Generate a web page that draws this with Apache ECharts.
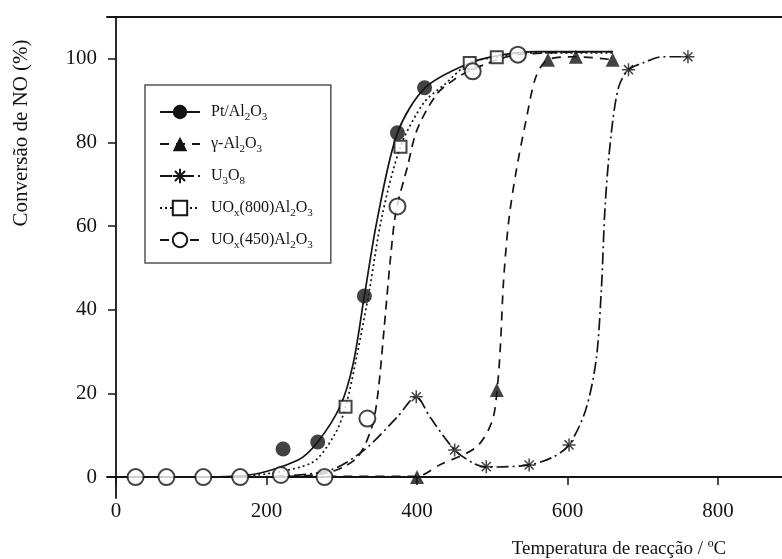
<!DOCTYPE html>
<html>
<head>
<meta charset="utf-8">
<script src="https://cdn.jsdelivr.net/npm/echarts@6/dist/echarts.min.js"></script>
<style>
  html, body { margin: 0; padding: 0; background: #fff; }
  #chart { width: 782px; height: 559px; }
</style>
</head>
<body>
<div id="chart"></div>
<script>
// tick labels
const xTicks = [0, 200, 400, 600, 800];
const yTicks = [0, 20, 40, 60, 80, 100];

// Pt/Al2O3 (filled circles, solid)
const ptX = [222, 268, 330, 374, 410];
const ptY = [6.7, 8.4, 43.3, 82.3, 93.1];
const ptCurveX = [100, 176, 242, 268, 298, 315, 330, 347, 374, 411, 470, 515, 558, 660];
const ptCurveY = [0, 0.5, 4.1, 8.4, 17, 27, 43.3, 61.5, 82.3, 93.1, 99, 101, 101.7, 101.7];

// γ-Al2O3 (triangles, dashed)
const gaX = [400, 506, 574, 611, 660];
const gaY = [0, 20.8, 99.8, 100.5, 99.8];
const gaCurveX = [281, 400, 430, 479, 500, 507, 511, 515, 522, 532, 545, 558, 574, 611, 660];
const gaCurveY = [0.2, 0.2, 2.9, 7.2, 13.5, 22, 32, 47, 61.5, 73.4, 85.4, 95.7, 99.8, 100.5, 99.8];

// U3O8 (asterisks, dash-dot)
const u3X = [399, 450, 492, 549, 602, 681, 760];
const u3Y = [19.2, 6.5, 2.5, 2.9, 7.7, 97.4, 100.5];
const u3CurveX = [149, 215, 285, 330, 374, 399, 417, 450, 475, 492, 549, 581, 602, 624, 638, 645, 650, 658, 668, 681, 700, 726, 760];
const u3CurveY = [0, 0.2, 1.7, 6.5, 14.4, 19.2, 14.4, 6.5, 3.3, 2.4, 2.9, 4.8, 7.7, 16, 28, 45, 65, 82, 93.3, 97.4, 99, 100.5, 100.5];

// UOx(800)Al2O3 (open squares, dotted)
const u8X = [305, 378, 470, 506];
const u8Y = [16.8, 79, 99, 100.4];
const u8CurveX = [176, 259, 290, 305, 320, 337, 353, 378, 409, 436, 470, 506, 545, 660];
const u8CurveY = [0.2, 3.3, 10, 16.8, 29, 45, 62, 79, 89.5, 93.8, 99, 100.4, 101.4, 101.4];

// UOx(450)Al2O3 (open circles, dashed)
const u4X = [26, 67, 116, 165, 219, 277, 334, 374, 474, 534];
const u4Y = [0, 0, 0, 0, 0.5, 0, 14, 64.7, 97, 101];
const u4CurveX = [150, 250, 290, 321, 340, 348, 356, 364, 372, 387, 400, 426, 449, 474, 534, 660];
const u4CurveY = [0, 0.3, 1.5, 4.8, 12, 20, 35, 51, 63.5, 74, 83, 91.5, 95, 97.5, 101, 101.7];

const names = ['Pt/Al2O3', 'γ-Al2O3', 'U3O8', 'UOx(800)Al2O3', 'UOx(450)Al2O3'];
const labels = {
  'Pt/Al2O3': 'Pt/Al{s|2}O{s|3}',
  'γ-Al2O3': 'γ-Al{s|2}O{s|3}',
  'U3O8': 'U{s|3}O{s|8}',
  'UOx(800)Al2O3': 'UO{s|x}(800)Al{s|2}O{s|3}',
  'UOx(450)Al2O3': 'UO{s|x}(450)Al{s|2}O{s|3}'
};

const ink = '#141414';
const serif = '"Liberation Serif", "DejaVu Serif", serif';
const star = 'path://M0,-10L0,10M-10,0L10,0M-7,-7L7,7M-7,7L7,-7';

const zip = (xs, ys) => xs.map((x, i) => [x, ys[i]]);

function pair(name, mx, my, cx, cy, symbol, size, dash, itemStyle) {
  return [
    {
      name: name,
      type: 'line',
      data: zip(cx, cy),
      smooth: 0.3,
      symbol: symbol,
      showSymbol: false,
      lineStyle: {color: ink, width: 1.7, type: dash},
      itemStyle: itemStyle,
      z: 2
    },
    {
      name: name + ' pts',
      type: 'scatter',
      data: zip(mx, my),
      symbol: symbol,
      symbolSize: size,
      itemStyle: itemStyle,
      z: 3,
      silent: true
    }
  ];
}

const chart = echarts.init(document.getElementById('chart'));
chart.setOption({
  backgroundColor: '#fff',
  animation: false,
  grid: {left: 107, right: -5, top: 17, bottom: 61},
  xAxis: [{
    type: 'value', min: -12, max: 885,
    axisLine: {show: true, onZero: true, lineStyle: {color: ink, width: 1.8}},
    axisTick: {show: true, length: 8, customValues: xTicks, lineStyle: {color: ink, width: 1.5}},
    axisLabel: {customValues: xTicks, margin: 3, color: ink, fontFamily: serif, fontSize: 21},
    splitLine: {show: false}
  }, {
    type: 'value', min: -12, max: 885, position: 'top',
    axisLine: {show: true, onZero: false, lineStyle: {color: ink, width: 1.8}},
    axisTick: {show: false}, axisLabel: {show: false}, splitLine: {show: false}
  }],
  yAxis: {
    type: 'value', min: -5, max: 110,
    axisLine: {show: true, onZero: true, lineStyle: {color: ink, width: 1.8}},
    axisTick: {show: true, length: 8, customValues: yTicks, lineStyle: {color: ink, width: 1.5}},
    axisLabel: {customValues: yTicks, margin: 10, color: ink, fontFamily: serif, fontSize: 21},
    splitLine: {show: false}
  },
  legend: {
    orient: 'vertical', left: 145, top: 85,
    data: names,
    selectedMode: false,
    itemWidth: 40, itemHeight: 18, itemGap: 10,
    padding: [16, 18, 12, 14],
    borderColor: '#555', borderWidth: 1.5,
    formatter: n => labels[n],
    textStyle: {
      color: ink, fontFamily: serif, fontSize: 16, lineHeight: 22, padding: [0, 0, 0, 6],
      rich: {s: {color: ink, fontFamily: serif, fontSize: 11, lineHeight: 11, verticalAlign: 'bottom'}}
    }
  },
  graphic: [
    {
      type: 'text', x: 21, y: 133, rotation: Math.PI / 2,
      style: {text: 'Conversão de NO (%)', fill: ink, font: '21px ' + serif,
        align: 'center', verticalAlign: 'middle', textAlign: 'center', textVerticalAlign: 'middle'}
    },
    {
      type: 'text', x: 619, y: 549,
      style: {text: 'Temperatura de reacção / ºC', fill: ink, font: '19px ' + serif,
        align: 'center', verticalAlign: 'middle', textAlign: 'center', textVerticalAlign: 'middle'}
    }
  ],
  series: [].concat(
    pair(names[0], ptX, ptY, ptCurveX, ptCurveY, 'circle', 15, 'solid', {color: ink}),
    pair(names[1], gaX, gaY, gaCurveX, gaCurveY, 'triangle', 14, [9, 7], {color: ink}),
    pair(names[2], u3X, u3Y, u3CurveX, u3CurveY, star, 13, [12, 4, 2, 4], {color: ink, borderColor: ink, borderWidth: 1.5}),
    pair(names[3], u8X, u8Y, u8CurveX, u8CurveY, 'emptyRect', 12, [2, 3], {color: ink, borderWidth: 1.3}),
    pair(names[4], u4X, u4Y, u4CurveX, u4CurveY, 'emptyCircle', 16, [9, 6], {color: ink, borderWidth: 1.3})
  )
});
</script>
</body>
</html>
